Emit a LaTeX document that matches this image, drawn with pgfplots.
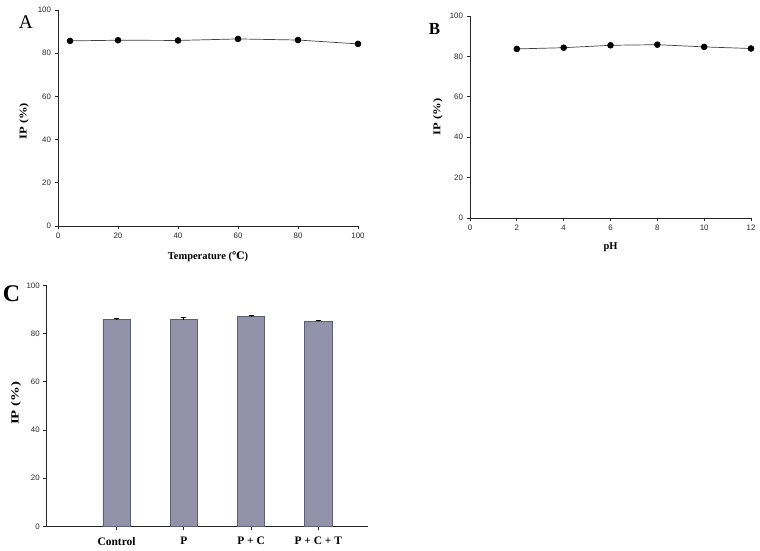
\documentclass[border=0pt]{standalone}
\usepackage{fontspec}
\setmainfont{Liberation Serif}
\newfontfamily\arial{Liberation Sans}
\newfontfamily\dvs{DejaVu Serif}
\usepackage{graphicx}
\usepackage{pgfplots}
\pgfplotsset{compat=1.18}
\definecolor{barfill}{HTML}{9292AA}
\definecolor{baredge}{HTML}{5E5E72}

\pgfplotsset{
  panel/.style={
    scale only axis,
    axis x line*=bottom, axis y line*=left,
    axis line style={-, line width=0.8bp, black!85},
    tick style={black!85, line width=0.7bp},
    tick align=outside, major tick length=3.5bp,
    ticklabel style={font=\arial\fontsize{7.9}{9}\selectfont, text=black!85},
    /pgf/number format/assume math mode=true,
    label style={font=\bfseries\fontsize{10.5}{11}\selectfont},
    ymin=0, ymax=100, ytick={0,20,...,100},
    clip=false, anchor=south west,
  }
}

\begin{document}
\begin{tikzpicture}
\useasboundingbox (0bp,0bp) rectangle (760bp,551bp);

% Panel A
\begin{axis}[panel, at={(58bp,325bp)},
  width=300bp, height=216bp,
  xmin=0, xmax=100, xtick={0,20,...,100},
  xlabel={Temperature ({\dvs\bfseries ℃})},
  ylabel={\scalebox{1.2}[1]{IP (\%)}},
  xlabel style={at={(axis description cs:0.5,-0.1435)}, anchor=center},
  ylabel style={at={(axis description cs:-0.113,0.485)}, anchor=center}]
\addplot[black!75, line width=0.7bp, mark=*, mark size=2.9bp,
  mark options={fill=black, draw=black}]
  coordinates {(4,85.7) (20,86.0) (40,85.9) (60,86.6) (80,86.1) (100,84.3)};
\end{axis}
\node[font=\fontsize{19.5}{20}\selectfont] at (26bp,529bp) {A};

% Panel B
\begin{axis}[panel, at={(470bp,333bp)},
  width=281bp, height=202bp,
  xmin=0, xmax=12, xtick={0,2,...,12},
  xlabel={pH},
  ylabel={\scalebox{1.2}[1]{IP (\%)}},
  xlabel style={at={(axis description cs:0.5,-0.1436)}, anchor=center},
  ylabel style={at={(axis description cs:-0.114,0.5)}, anchor=center}]
\addplot[black!75, line width=0.7bp, mark=*, mark size=2.9bp,
  mark options={fill=black, draw=black}]
  coordinates {(2,83.7) (4,84.3) (6,85.5) (8,85.8) (10,84.7) (12,83.9)};
\end{axis}
\node[font=\bfseries\fontsize{17}{18}\selectfont] at (434.5bp,522bp) {B};

% Panel C
\begin{axis}[panel, at={(46.7bp,24.7bp)},
  width=321.3bp, height=241bp,
  xmin=0, xmax=4.78,
  xtick={1.04,2.04,3.04,4.04},
  xticklabels={Control, P, P + C, P + C + T},
  xticklabel style={font=\bfseries\fontsize{11.5}{12}\selectfont, text=black, yshift=-4bp},
  ylabel={\scalebox{1.35}[1]{IP (\%)}},
  ylabel style={at={(axis description cs:-0.0955,0.51)}, anchor=center, font=\bfseries\fontsize{11}{12}\selectfont}]
\addplot[ybar, bar width=27.3bp, fill=barfill, draw=baredge, line width=0.6bp,
  error bars/.cd, y dir=plus, y explicit,
  error bar style={black, line width=0.7bp},
  error mark options={rotate=90, mark size=2.5bp, black, line width=0.7bp}]
  coordinates {(1.04,85.8) +- (0,0.5) (2.04,85.8) +- (0,0.8) (3.04,87.0) +- (0,0.6) (4.04,85.1) +- (0,0.5)};
\end{axis}
\node[font=\bfseries\fontsize{24}{25}\selectfont] at (11.5bp,257bp) {C};
\end{tikzpicture}
\end{document}
